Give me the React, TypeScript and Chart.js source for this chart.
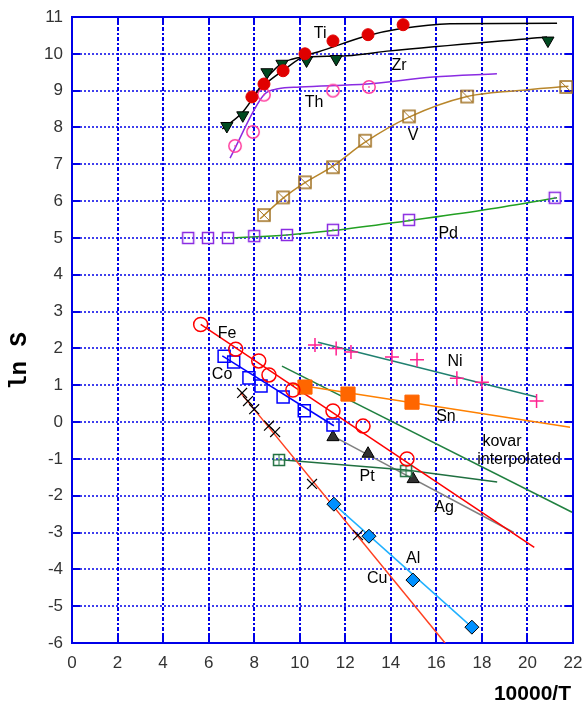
import React, { useEffect, useRef } from "react";
import { Chart, registerables } from "chart.js";
Chart.register(...registerables);

// ---- measured points ----
const tiX = [7.9, 8.43, 9.27, 10.23, 11.46, 13.0, 14.54];
const tiY = [8.83, 9.18, 9.54, 10.0, 10.35, 10.52, 10.79];
const zrX = [6.8, 7.5, 8.56, 9.22, 10.3, 11.6, 20.9];
const zrY = [8.04, 8.33, 9.5, 9.73, 9.82, 9.86, 10.36];
const thX = [7.16, 7.95, 8.43, 11.46, 13.04];
const thY = [7.5, 7.88, 8.89, 9.0, 9.1];
const vX = [8.43, 9.27, 10.23, 11.46, 12.87, 14.8, 17.35, 21.7];
const vY = [5.62, 6.1, 6.51, 6.92, 7.64, 8.3, 8.84, 9.1];
const pdX = [5.1, 5.97, 6.85, 8.0, 9.44, 11.46, 14.8, 21.2];
const pdY = [5.0, 5.0, 5.0, 5.05, 5.08, 5.22, 5.49, 6.09];
const feX = [5.65, 7.19, 8.2, 8.65, 9.7, 11.46, 12.78, 14.71];
const feY = [2.65, 1.98, 1.66, 1.28, 0.87, 0.3, -0.11, -1.0];
const coX = [6.68, 7.1, 7.77, 8.3, 9.27, 10.2, 11.46];
const coY = [1.79, 1.63, 1.2, 0.98, 0.68, 0.31, -0.08];
const cuX = [7.47, 7.73, 8.0, 8.65, 8.92, 10.54, 12.56];
const cuY = [0.79, 0.57, 0.35, -0.1, -0.27, -1.68, -3.07];
const alX = [11.5, 13.04, 14.97, 17.56];
const alY = [-2.23, -3.1, -4.29, -5.57];
const niX = [10.67, 11.6, 12.25, 14.05, 15.15, 16.9, 18.0, 20.4];
const niY = [2.09, 2.0, 1.9, 1.77, 1.69, 1.19, 1.08, 0.57];
const snX = [10.23, 12.12, 14.93];
const snY = [0.95, 0.76, 0.54];
const ptX = [9.09, 14.67];
const ptY = [-1.03, -1.33];
const agX = [11.46, 13.0, 14.98];
const agY = [-0.41, -0.86, -1.55];

// ---- fitted curves ----
const tiFitX = [7.9, 8.43, 9.27, 10.23, 10.8, 12.96, 14.4, 16.6, 21.3];
const tiFitY = [8.8, 9.15, 9.55, 9.95, 10.05, 10.49, 10.68, 10.82, 10.83];
const zrFitX = [6.6, 7.5, 8.56, 9.22, 9.7, 10.0, 12.08, 13.97, 20.86];
const zrFitY = [7.96, 8.42, 9.35, 9.75, 9.86, 9.9, 9.95, 10.08, 10.46];
const thFitX = [6.94, 8.43, 9.05, 10.0, 12.96, 15.85, 18.66];
const thFitY = [7.17, 8.89, 9.05, 9.1, 9.18, 9.37, 9.46];
const vFitX = [8.26, 9.27, 10.23, 11.46, 12.87, 14.8, 17.35, 19.5, 21.8];
const vFitY = [5.52, 6.08, 6.5, 6.95, 7.6, 8.28, 8.84, 9.0, 9.12];
const pdFitX = [7.07, 9.44, 11.46, 14.8, 18.0, 21.3];
const pdFitY = [5.0, 5.08, 5.2, 5.47, 5.75, 6.09];
const feFitX = [5.65, 20.3];
const feFitY = [2.65, -3.4];
const coFitX = [6.6, 11.5];
const coFitY = [1.8, -0.1];
const cuFitX = [7.4, 16.38];
const cuFitY = [0.8, -6.0];
const alFitX = [11.5, 17.56];
const alFitY = [-2.23, -5.57];
const niFitX = [10.8, 20.4];
const niFitY = [2.17, 0.68];
const snFitX = [9.5, 21.87];
const snFitY = [1.05, -0.14];
const kovarX = [9.22, 21.96];
const kovarY = [1.52, -2.45];
const ptFitX = [9.3, 14.67, 18.67];
const ptFitY = [-1.03, -1.3, -1.63];
const agFitX = [11.46, 19.4];
const agFitY = [-0.38, -3.0];

// ---- annotations ----
const labelTexts = ["Ti", "Zr", "Th", "V", "Pd", "Fe", "Co", "Ni", "Sn", "kovar", "interpolated", "Pt", "Ag", "Al", "Cu"];
const labelX = [10.9, 14.36, 10.63, 14.98, 16.52, 6.81, 6.59, 16.82, 16.42, 18.88, 19.63, 12.96, 16.34, 14.98, 13.4];
const labelY = [10.54, 9.67, 8.67, 7.77, 5.11, 2.39, 1.28, 1.63, 0.14, -0.52, -1.03, -1.49, -2.31, -3.7, -4.24];

const X_TITLE = "10000/T";
const Y_TITLE = "ln S";

const pts = (xs: number[], ys: number[]) => xs.map((x, i) => ({ x, y: ys[i] }));

function makeMarker(kind: string, color: string): HTMLCanvasElement {
  const size = 16;
  const c = document.createElement("canvas");
  c.width = size;
  c.height = size;
  const g = c.getContext("2d")!;
  g.strokeStyle = color;
  g.fillStyle = color;
  g.lineWidth = 1.5;
  const m = size / 2;
  if (kind === "circleDot") {
    g.beginPath();
    g.arc(m, m, 6.2, 0, Math.PI * 2);
    g.stroke();
    g.fillRect(m - 0.75, m - 0.75, 1.5, 1.5);
  } else if (kind === "squareDot") {
    g.strokeRect(m - 5.5, m - 5.5, 11, 11);
    g.fillRect(m - 0.75, m - 0.75, 1.5, 1.5);
  } else if (kind === "squareSlash") {
    g.strokeRect(m - 6, m - 6, 12, 12);
    g.lineWidth = 1;
    g.beginPath();
    g.moveTo(m - 5.5, m - 5.5);
    g.lineTo(m + 5.5, m + 5.5);
    g.stroke();
  } else if (kind === "squareCross") {
    g.strokeRect(m - 5.5, m - 5.5, 11, 11);
    g.lineWidth = 1;
    g.beginPath();
    g.moveTo(m, m - 5);
    g.lineTo(m, m + 5);
    g.moveTo(m - 5, m);
    g.lineTo(m + 5, m);
    g.stroke();
  }
  return c;
}

const GRID = "#0000e8";
const TICK_FONT = '"Liberation Sans", Arial, sans-serif';

const framePlugin = {
  id: "frame",
  beforeDatasetsDraw(chart: any) {
    const { ctx, chartArea: a, scales } = chart;
    const xs = scales.x;
    const ys = scales.y;
    ctx.save();
    ctx.strokeStyle = GRID;
    ctx.lineWidth = 2;
    ctx.setLineDash([4, 2, 2, 2]);
    for (let v = 2; v < 22; v += 2) {
      const px = Math.round(xs.getPixelForValue(v));
      ctx.beginPath();
      ctx.moveTo(px, a.top);
      ctx.lineTo(px, a.bottom);
      ctx.stroke();
    }
    ctx.lineWidth = 1.5;
    ctx.setLineDash([2, 2]);
    for (let v = -5; v < 11; v += 1) {
      const py = Math.round(ys.getPixelForValue(v));
      ctx.beginPath();
      ctx.moveTo(a.left, py);
      ctx.lineTo(a.right, py);
      ctx.stroke();
    }
    ctx.setLineDash([]);
    ctx.lineWidth = 2;
    const TL = 8;
    for (let v = 2; v < 22; v += 2) {
      const px = Math.round(xs.getPixelForValue(v));
      ctx.beginPath();
      ctx.moveTo(px, a.bottom);
      ctx.lineTo(px, a.bottom - TL);
      ctx.moveTo(px, a.top);
      ctx.lineTo(px, a.top + TL);
      ctx.stroke();
    }
    for (let v = -5; v < 11; v += 1) {
      const py = Math.round(ys.getPixelForValue(v));
      ctx.beginPath();
      ctx.moveTo(a.left, py);
      ctx.lineTo(a.left + TL, py);
      ctx.moveTo(a.right, py);
      ctx.lineTo(a.right - TL, py);
      ctx.stroke();
    }
    ctx.strokeRect(a.left, a.top, a.right - a.left, a.bottom - a.top);
    ctx.restore();
  },
  afterDraw(chart: any) {
    const { ctx, scales } = chart;
    ctx.save();
    ctx.fillStyle = "#000";
    ctx.font = '16px "Liberation Sans", Arial, sans-serif';
    ctx.textAlign = "center";
    ctx.textBaseline = "middle";
    labelTexts.forEach((t, i) => {
      ctx.fillText(t, scales.x.getPixelForValue(labelX[i]), scales.y.getPixelForValue(labelY[i]));
    });
    ctx.font = 'bold 21px "Liberation Sans", Arial, sans-serif';
    ctx.textAlign = "right";
    ctx.textBaseline = "alphabetic";
    ctx.fillText(X_TITLE, 571, 700);
    ctx.translate(20, 361);
    ctx.rotate(-Math.PI / 2);
    ctx.font = 'bold 24px "Liberation Mono", "Courier New", monospace';
    ctx.textAlign = "center";
    ctx.textBaseline = "middle";
    ctx.fillText(Y_TITLE, 0, 0);
    ctx.restore();
  },
};

export default function App() {
  const ref = useRef<HTMLCanvasElement>(null);
  useEffect(() => {
    document.body.style.margin = "0";
    const canvas = ref.current!;
    const pointSet = (data: any[], style: any, extra: any) => ({
      type: "line",
      data,
      showLine: false,
      pointStyle: style,
      order: 0,
      ...extra,
    });
    const lineSet = (data: any[], color: string, smooth: boolean, width = 1.5) => ({
      type: "line",
      data,
      showLine: true,
      borderColor: color,
      borderWidth: width,
      pointRadius: 0,
      fill: false,
      order: 1,
      cubicInterpolationMode: smooth ? "monotone" : "default",
    });

    const chart = new Chart(canvas, {
      type: "scatter",
      data: {
        datasets: [
          lineSet(pts(tiFitX, tiFitY), "#000000", true),
          lineSet(pts(zrFitX, zrFitY), "#000000", true),
          lineSet(pts(thFitX, thFitY), "#8a2be2", true),
          lineSet(pts(vFitX, vFitY), "#b8862b", true),
          lineSet(pts(pdFitX, pdFitY), "#22a022", true),
          lineSet(pts(feFitX, feFitY), "#ff0000", false),
          lineSet(pts(coFitX, coFitY), "#0000ff", false),
          lineSet(pts(cuFitX, cuFitY), "#ff4020", false),
          lineSet(pts(alFitX, alFitY), "#20b0ff", false),
          lineSet(pts(niFitX, niFitY), "#208070", false),
          lineSet(pts(snFitX, snFitY), "#ff8000", false),
          lineSet(pts(kovarX, kovarY), "#208040", false),
          lineSet(pts(ptFitX, ptFitY), "#207040", false),
          lineSet(pts(agFitX, agFitY), "#808080", false),
          pointSet(pts(tiX, tiY), "circle", { pointRadius: 6, backgroundColor: "#e00000", borderColor: "#e00000", borderWidth: 1 }),
          pointSet(pts(zrX, zrY), "triangle", { pointRadius: 7, rotation: 180, backgroundColor: "#004a20", borderColor: "#000", borderWidth: 1 }),
          pointSet(pts(thX, thY), makeMarker("circleDot", "#ff40a0"), {}),
          pointSet(pts(vX, vY), makeMarker("squareSlash", "#a07020"), {}),
          pointSet(pts(pdX, pdY), makeMarker("squareDot", "#8a2be2"), {}),
          pointSet(pts(feX, feY), "circle", { pointRadius: 7, backgroundColor: "rgba(0,0,0,0)", borderColor: "#ff0000", borderWidth: 1.5 }),
          pointSet(pts(coX, coY), "rect", { pointRadius: 8.5, backgroundColor: "rgba(0,0,0,0)", borderColor: "#0000ff", borderWidth: 1.5 }),
          pointSet(pts(cuX, cuY), "crossRot", { pointRadius: 7, borderColor: "#000", borderWidth: 1.2 }),
          pointSet(pts(alX, alY), "rectRot", { pointRadius: 7, backgroundColor: "#0090ff", borderColor: "#000", borderWidth: 1 }),
          pointSet(pts(niX, niY), "cross", { pointRadius: 7, borderColor: "#ff2090", borderWidth: 1.5 }),
          pointSet(pts(snX, snY), "rect", { pointRadius: 10, backgroundColor: "#ff6600", borderColor: "#ff6600", borderWidth: 1 }),
          pointSet(pts(ptX, ptY), makeMarker("squareCross", "#207040"), {}),
          pointSet(pts(agX, agY), "triangle", { pointRadius: 7, backgroundColor: "#303030", borderColor: "#000", borderWidth: 1 }),
        ] as any,
      },
      options: {
        animation: false,
        responsive: false,
        events: [],
        layout: { padding: { left: 0, top: 17, right: 11, bottom: 0 } },
        plugins: { legend: { display: false }, tooltip: { enabled: false } },
        scales: {
          x: {
            type: "linear",
            min: 0,
            max: 22,
            grid: { display: false, drawTicks: false },
            border: { display: false },
            ticks: {
              stepSize: 2,
              padding: 10,
              color: "#333",
              font: { family: TICK_FONT, size: 17 },
            },
            afterFit: (s: any) => {
              s.height = 61;
              s.paddingRight = 0;
              s.paddingLeft = 0;
            },
          },
          y: {
            type: "linear",
            min: -6,
            max: 11,
            grid: { display: false, drawTicks: false },
            border: { display: false },
            ticks: {
              stepSize: 1,
              padding: 9,
              color: "#333",
              font: { family: TICK_FONT, size: 17 },
            },
            afterFit: (s: any) => {
              s.width = 72;
              s.paddingTop = 0;
              s.paddingBottom = 0;
            },
          },
        },
      } as any,
      plugins: [framePlugin],
    });
    return () => chart.destroy();
  }, []);
  return <canvas ref={ref} width={584} height={704} style={{ display: "block", width: 584, height: 704 }} />;
}
